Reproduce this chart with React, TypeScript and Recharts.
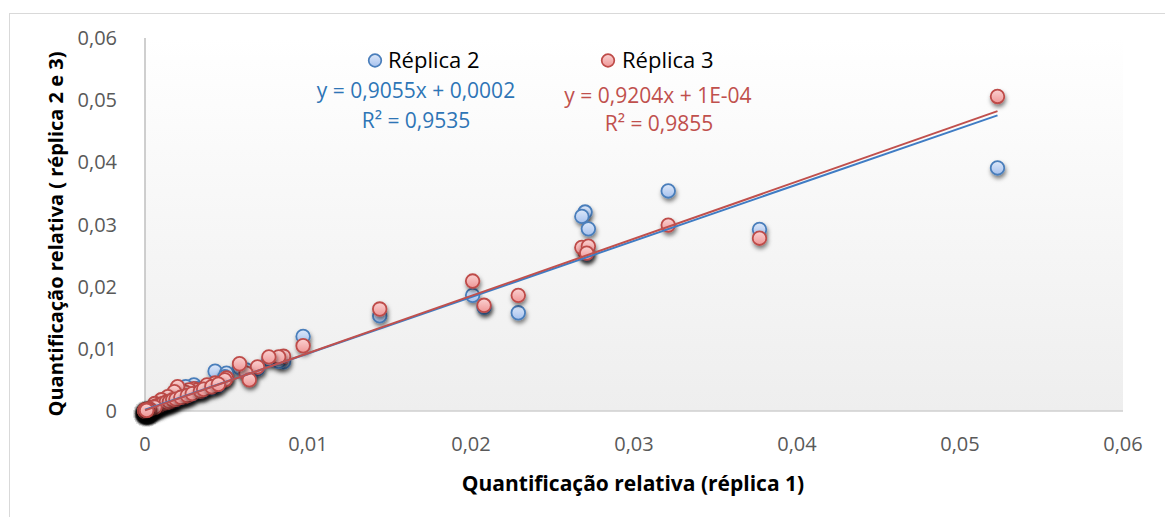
import React from 'react';
import { ScatterChart, Scatter, XAxis, YAxis, CartesianGrid } from 'recharts';

// Quantificação relativa – réplica 1 (x) vs réplicas 2 e 3 (y)
const replica1 = [
  0.0523, 0.0377, 0.0321, 0.0270, 0.0268, 0.0272, 0.0271, 0.0229, 0.0208, 0.0201,
  0.0144, 0.0097, 0.0085, 0.0082, 0.0076, 0.0069, 0.0062, 0.0058, 0.0064, 0.0043,
  0.0050, 0.0049, 0.0038, 0.0030, 0.0032, 0.0027, 0.0025, 0.0020, 0.0018, 0.0024,
  0.0014, 0.0016, 0.0010, 0.0012, 0.0006, 0.0008, 0.0004, 0.0003, 0.0005, 0.0002,
  0.0001, 0.0002, 0.0001, 0.0000, 0.0001, 0.0003, 0.0000, 0.0001, 0.0002, 0.0000,
  0.0001, 0.0000, 0.0001, 0.0000, 0.0002, 0.0000, 0.0001, 0.0000, 0.0000, 0.0001,
  0.0000, 0.0000, 0.0000, 0.0001, 0.0000, 0.0000, 0.0000, 0.0000, 0.0000, 0.0000,
  0.0007, 0.0009, 0.0011, 0.0013, 0.0015, 0.0017, 0.0019, 0.0022, 0.0026, 0.0029,
  0.0034, 0.0036, 0.0041, 0.0045, 0.0004, 0.0006, 0.0003, 0.0002, 0.0001, 0.0001,
];
const replica2 = [
  0.0391, 0.0292, 0.0354, 0.0320, 0.0313, 0.0293, 0.0253, 0.0158, 0.0167, 0.0186,
  0.0153, 0.0120, 0.0079, 0.0080, 0.0083, 0.0068, 0.0066, 0.0070, 0.0055, 0.0064,
  0.0061, 0.0055, 0.0040, 0.0042, 0.0036, 0.0033, 0.0039, 0.0030, 0.0026, 0.0026,
  0.0020, 0.0014, 0.0013, 0.0010, 0.0008, 0.0005, 0.0003, 0.0002, 0.0004, 0.0001,
  0.0001, 0.0002, 0.0000, 0.0001, 0.0000, 0.0002, 0.0000, 0.0001, 0.0001, 0.0000,
  0.0000, 0.0001, 0.0000, 0.0000, 0.0001, 0.0000, 0.0000, 0.0001, 0.0000, 0.0000,
  0.0000, 0.0000, 0.0000, 0.0000, 0.0000, 0.0000, 0.0000, 0.0000, 0.0000, 0.0000,
  0.0006, 0.0008, 0.0010, 0.0012, 0.0013, 0.0016, 0.0017, 0.0020, 0.0023, 0.0027,
  0.0031, 0.0033, 0.0037, 0.0041, 0.0002, 0.0004, 0.0001, 0.0001, 0.0000, 0.0001,
];
const replica3 = [
  0.0506, 0.0278, 0.0299, 0.0256, 0.0263, 0.0265, 0.0254, 0.0186, 0.0170, 0.0209,
  0.0164, 0.0105, 0.0088, 0.0087, 0.0087, 0.0071, 0.0061, 0.0076, 0.0050, 0.0045,
  0.0053, 0.0050, 0.0042, 0.0036, 0.0034, 0.0034, 0.0030, 0.0039, 0.0031, 0.0023,
  0.0023, 0.0015, 0.0018, 0.0012, 0.0012, 0.0007, 0.0005, 0.0003, 0.0006, 0.0003,
  0.0002, 0.0003, 0.0001, 0.0002, 0.0001, 0.0004, 0.0000, 0.0002, 0.0002, 0.0001,
  0.0001, 0.0000, 0.0001, 0.0000, 0.0002, 0.0001, 0.0000, 0.0000, 0.0001, 0.0000,
  0.0000, 0.0001, 0.0000, 0.0000, 0.0000, 0.0000, 0.0001, 0.0000, 0.0000, 0.0000,
  0.0008, 0.0010, 0.0012, 0.0014, 0.0015, 0.0018, 0.0019, 0.0022, 0.0025, 0.0028,
  0.0032, 0.0035, 0.0039, 0.0043, 0.0004, 0.0006, 0.0003, 0.0002, 0.0001, 0.0001,
];

const axisTicks = [0, 0.01, 0.02, 0.03, 0.04, 0.05, 0.06];

const seriesNames = ['Réplica 2', 'Réplica 3'];
const trend2 = { slope: 0.9055, intercept: 0.0002, eq: 'y = 0,9055x + 0,0002', r2: 'R² = 0,9535' };
const trend3 = { slope: 0.9204, intercept: 0.0001, eq: 'y = 0,9204x + 1E-04', r2: 'R² = 0,9855' };

const data2 = replica1.map((x, i) => ({ x, y: replica2[i] }));
const data3 = replica1.map((x, i) => ({ x, y: replica3[i] }));
const xMin = Math.min(...replica1);
const xMax = Math.max(...replica1);
const line2 = [xMin, xMax].map((x) => ({ x, y: trend2.slope * x + trend2.intercept }));
const line3 = [xMin, xMax].map((x) => ({ x, y: trend3.slope * x + trend3.intercept }));

const FONT = '"Open Sans", sans-serif';
const BLUE_STROKE = '#4a7ebb';
const RED_STROKE = '#be4b48';

const fmt = (v: number) => (v === 0 ? '0' : v.toFixed(2).replace('.', ','));

const makeDot = (fill: string, stroke: string) => (props: any) => {
  if (props.cx == null || props.cy == null) return <g />;
  return (
    <circle
      cx={props.cx}
      cy={props.cy}
      r={6.8}
      fill={fill}
      stroke={stroke}
      strokeWidth={1.8}
      filter="url(#dotShadow)"
    />
  );
};

const BlueDot = makeDot('url(#blueFill)', BLUE_STROKE);
const RedDot = makeDot('url(#redFill)', RED_STROKE);
const NoDot = () => <g />;

export default function App() {
  return (
    <div style={{ position: 'absolute', left: 0, top: 0, width: 1165, height: 517, background: '#fff' }}>
      <ScatterChart
        width={1165}
        height={517}
        margin={{ top: 38, right: 42, bottom: 46, left: 65 }}
      >
        <defs>
          <linearGradient id="plotBg" x1="0" y1="0" x2="0" y2="1">
            <stop offset="0%" stopColor="#ffffff" />
            <stop offset="100%" stopColor="#eeeeee" />
          </linearGradient>
          <linearGradient id="blueFill" x1="0" y1="0" x2="0" y2="1">
            <stop offset="0%" stopColor="#dde8f9" />
            <stop offset="100%" stopColor="#a6c1ee" />
          </linearGradient>
          <linearGradient id="redFill" x1="0" y1="0" x2="0" y2="1">
            <stop offset="0%" stopColor="#fad2d2" />
            <stop offset="100%" stopColor="#ef9696" />
          </linearGradient>
          <filter id="dotShadow" x="-80%" y="-80%" width="260%" height="260%">
            <feDropShadow dx="1" dy="3" stdDeviation="2.2" floodColor="#000" floodOpacity="0.5" />
          </filter>
        </defs>
        <rect x={9.5} y={13.5} width={1170} height={520} fill="none" stroke="#d9d9d9" strokeWidth={1} />
        <CartesianGrid horizontal={false} vertical={false} fill="url(#plotBg)" fillOpacity={1} stroke="none" />
        <XAxis
          type="number"
          dataKey="x"
          domain={[0, 0.06]}
          ticks={axisTicks}
          tickFormatter={fmt}
          height={60}
          tickLine={false}
          axisLine={{ stroke: '#cfcfcf', strokeWidth: 1.5 }}
          tickMargin={20}
          tick={{ fill: '#595959', fontSize: 20, fontFamily: FONT }}
        />
        <YAxis
          type="number"
          dataKey="y"
          domain={[0, 0.06]}
          ticks={axisTicks}
          tickFormatter={fmt}
          width={80}
          tickLine={false}
          axisLine={{ stroke: '#bfbfbf', strokeWidth: 1.5 }}
          tickMargin={22}
          tick={{ fill: '#595959', fontSize: 20, fontFamily: FONT }}
        />
        <Scatter name={seriesNames[0]} data={data2} shape={BlueDot} isAnimationActive={false} />
        <Scatter name={seriesNames[1]} data={data3} shape={RedDot} isAnimationActive={false} />
        <Scatter
          data={line2}
          shape={NoDot}
          line={{ stroke: '#3f7cc4', strokeWidth: 2 }}
          isAnimationActive={false}
          legendType="none"
        />
        <Scatter
          data={line3}
          shape={NoDot}
          line={{ stroke: '#c0504d', strokeWidth: 2 }}
          isAnimationActive={false}
          legendType="none"
        />

        {/* legend */}
        <circle cx={375} cy={60.5} r={6.3} fill="url(#blueFill)" stroke={BLUE_STROKE} strokeWidth={1.7} />
        <text x={388} y={68} fontFamily={FONT} fontSize={22} fill="#000">{seriesNames[0]}</text>
        <circle cx={608} cy={60.5} r={6.3} fill="url(#redFill)" stroke={RED_STROKE} strokeWidth={1.7} />
        <text x={622} y={68} fontFamily={FONT} fontSize={22} fill="#000">{seriesNames[1]}</text>

        {/* trendline equations */}
        <text x={416} y={98} textAnchor="middle" fontFamily={FONT} fontSize={21} fill="#2e75b6">{trend2.eq}</text>
        <text x={416} y={128} textAnchor="middle" fontFamily={FONT} fontSize={21} fill="#2e75b6">{trend2.r2}</text>
        <text x={658} y={103} textAnchor="middle" fontFamily={FONT} fontSize={21} fill="#c0504d">{trend3.eq}</text>
        <text x={659} y={131} textAnchor="middle" fontFamily={FONT} fontSize={21} fill="#c0504d">{trend3.r2}</text>

        {/* axis titles */}
        <text x={633} y={491} textAnchor="middle" fontFamily={FONT} fontWeight="bold" fontSize={21} fill="#000">
          Quantificação relativa (réplica 1)
        </text>
        <text
          x={63}
          y={234}
          textAnchor="middle"
          fontFamily={FONT}
          fontWeight="bold"
          fontSize={20}
          fill="#000"
          transform="rotate(-90 63 234)"
        >
          Quantificação relativa ( réplica 2 e 3)
        </text>
      </ScatterChart>
    </div>
  );
}
